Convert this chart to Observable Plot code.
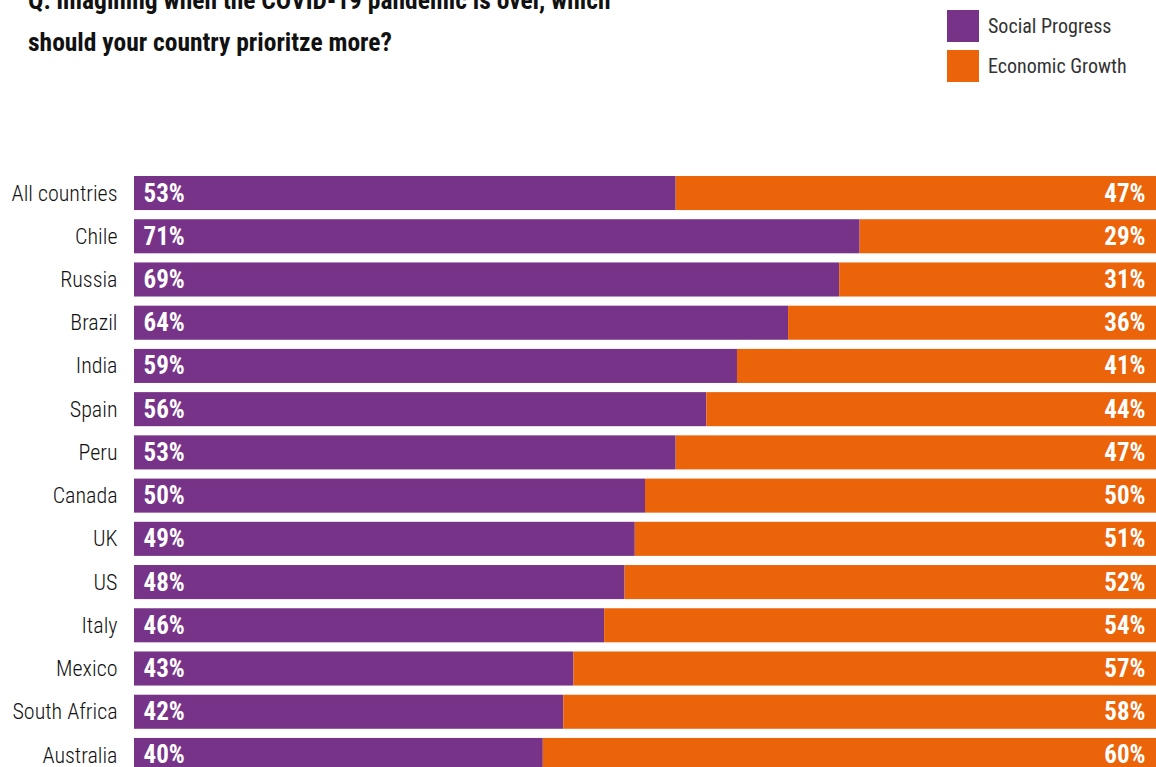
<!DOCTYPE html>
<html>
<head>
<meta charset="utf-8">
<script src="https://cdn.jsdelivr.net/npm/d3@7"></script>
<script src="https://cdn.jsdelivr.net/npm/@observablehq/plot@0.6"></script>
<style>
  html, body { margin: 0; padding: 0; background: #fff; overflow: hidden; }
  #wrap { position: relative; width: 1156px; height: 767px; overflow: hidden; font-family: "Roboto Condensed", Roboto, sans-serif; font-stretch: condensed; }
  #title { position: absolute; left: 28px; top: -21px; font-size: 25.5px; line-height: 42px; font-weight: bold; color: #111; z-index: 2; white-space: nowrap; }
  .leg { position: absolute; left: 947px; display: flex; align-items: center; z-index: 2; }
  .leg .sw { width: 32px; height: 32px; margin-right: 9px; }
  .leg span { font-size: 20px; color: #333; }
  #chart { position: absolute; left: 0; top: 0; }
  #chart svg text { font-stretch: condensed; }
</style>
</head>
<body>
<div id="wrap">
  <div id="title">Q: Imagining when the COVID-19 pandemic is over, which<br>should your country prioritze more?</div>
  <div id="legend"></div>
  <div id="chart"></div>
</div>
<script>
const countries = ["All countries","Chile","Russia","Brazil","India","Spain","Peru","Canada","UK","US","Italy","Mexico","South Africa","Australia"];
const socialProgress = [53,71,69,64,59,56,53,50,49,48,46,43,42,40];
const economicGrowth = [47,29,31,36,41,44,47,50,51,52,54,57,58,60];
const seriesNames = ["Social Progress","Economic Growth"];
const seriesColors = ["#773388","#EB6409"];

const rows = [];
countries.forEach((c, i) => {
  rows.push({country: c, series: seriesNames[0], value: socialProgress[i]});
  rows.push({country: c, series: seriesNames[1], value: economicGrowth[i]});
});

// legend
const legend = document.getElementById("legend");
seriesNames.forEach((s, i) => {
  const d = document.createElement("div");
  d.className = "leg";
  d.style.top = (10 + i * 40) + "px";
  d.innerHTML = `<div class="sw" style="background:${seriesColors[i]}"></div><span>${s}</span>`;
  legend.appendChild(d);
});

const plot = Plot.plot({
  width: 1156,
  height: 772,
  marginTop: 176,
  marginBottom: 0,
  marginLeft: 134,
  marginRight: 0,
  style: {fontFamily: "'Roboto Condensed', Roboto, sans-serif", background: "transparent"},
  x: {domain: [0, 100], axis: null},
  y: {domain: countries, paddingInner: 0.212, paddingOuter: 0, round: false, label: null, tickSize: 0, tickPadding: 17},
  color: {domain: seriesNames, range: seriesColors},
  marks: [
    Plot.barX(rows, Plot.stackX({y: "country", x: "value", fill: "series", order: seriesNames})),
    Plot.axisY({tickSize: 0, tickPadding: 17, fontSize: 22, fontWeight: 300, fill: "#111", label: null, style: {letterSpacing: "-0.2px"}}),
    Plot.text(countries, {x: () => 0, y: d => d, text: (d, i) => socialProgress[i] + "%", textAnchor: "start", dx: 9, fill: "white", fontSize: 25, fontWeight: "bold"}),
    Plot.text(countries, {x: () => 100, y: d => d, text: (d, i) => economicGrowth[i] + "%", textAnchor: "end", dx: -11, fill: "white", fontSize: 25, fontWeight: "bold"})
  ]
});
document.getElementById("chart").appendChild(plot);
</script>
</body>
</html>
